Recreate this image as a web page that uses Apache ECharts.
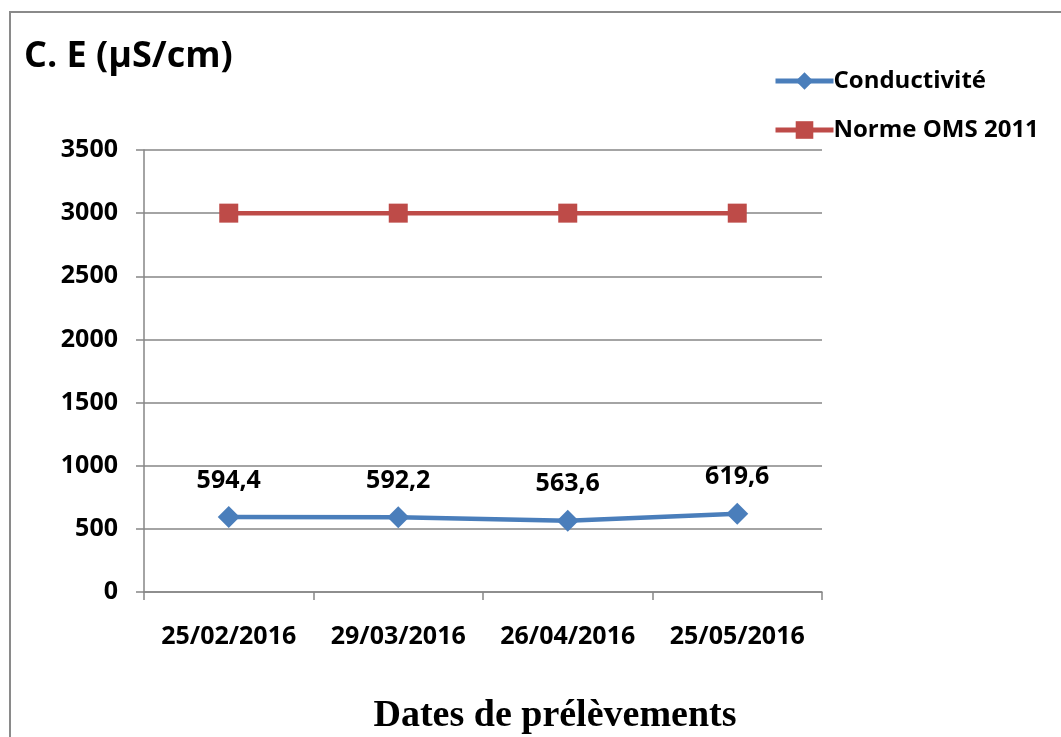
<!DOCTYPE html>
<html>
<head>
<meta charset="utf-8">
<script src="https://cdn.jsdelivr.net/npm/echarts@6/dist/echarts.min.js"></script>
<style>
  html, body { margin: 0; padding: 0; background: #fff; }
  #main { width: 1061px; height: 737px; }
</style>
</head>
<body>
<div id="main"></div>
<script>
var dates = ['25/02/2016', '29/03/2016', '26/04/2016', '25/05/2016'];
var conductivite = [594.4, 592.2, 563.6, 619.6];
var normeOMS = [3000, 3000, 3000, 3000];

var font = '"Open Sans", "Noto Sans", sans-serif';
var grey = '#868686';

var myChart = echarts.init(document.getElementById('main'));
var option = {
	animation: false,
	title: {
		text: 'C. E (µS/cm)',
		left: 19,
		top: 34,
		textStyle: { fontFamily: font, fontSize: 36, fontWeight: 'bold', color: '#000' }
	},
	graphic: [{
		type: 'rect',
		shape: { x: 10, y: 12, width: 1100, height: 800 },
		style: { fill: 'none', stroke: '#8a8a8a', lineWidth: 2 },
		silent: true
	}, {
		// titre de l'axe des abscisses
		type: 'text',
		x: 555,
		y: 716,
		style: {
			text: 'Dates de prélèvements',
			fontFamily: '"Liberation Serif", "DejaVu Serif", serif',
			fontSize: 38,
			fontWeight: 'bold',
			fill: '#000',
			align: 'center',
			verticalAlign: 'middle'
		}
	}],
	legend: {
		orient: 'vertical',
		left: 768,
		top: 64,
		itemWidth: 58,
		itemHeight: 22,
		itemGap: 25,
		lineStyle: { width: 5 },
		textStyle: { fontFamily: font, fontSize: 24, fontWeight: 'bold', color: '#000', padding: [0, 0, 0, -5] },
		data: ['Conductivité', 'Norme OMS 2011']
	},
	grid: { left: 144, right: 239, top: 150, bottom: 145 },
	xAxis: {
		type: 'category',
		data: dates,
		boundaryGap: true,
		axisLine: { lineStyle: { color: grey, width: 1.5 } },
		axisTick: { show: true, interval: 0, length: 8, lineStyle: { color: grey, width: 1.5 } },
		axisLabel: { interval: 0, fontFamily: font, fontSize: 25, fontWeight: 'bold', color: '#000', margin: 32 },
		splitLine: { show: false }
	},
	yAxis: {
		type: 'value',
		min: 0,
		max: 3500,
		interval: 500,
		axisLine: { show: true, lineStyle: { color: grey, width: 1.5 } },
		axisTick: { show: true, length: 8, lineStyle: { color: grey, width: 1.5 } },
		axisLabel: {
			fontFamily: font, fontSize: 25, fontWeight: 'bold', color: '#000', margin: 26,
			formatter: function(v) { return String(v); }
		},
		splitLine: { lineStyle: { color: grey, width: 1.5 } }
	},
	series: [{
		name: 'Conductivité',
		type: 'line',
		data: conductivite,
		symbol: 'diamond',
		symbolSize: 22,
		lineStyle: { color: '#4A7EBB', width: 4.5 },
		itemStyle: { color: '#4A7EBB' },
		label: {
			show: true,
			position: 'top',
			distance: 13,
			fontFamily: font,
			fontSize: 25,
			fontWeight: 'bold',
			color: '#000',
			formatter: function(p) { return String(p.value).replace('.', ','); }
		}
	}, {
		name: 'Norme OMS 2011',
		type: 'line',
		data: normeOMS,
		symbol: 'rect',
		symbolSize: 19,
		lineStyle: { color: '#BE4B48', width: 4.5 },
		itemStyle: { color: '#BE4B48' }
	}]
};
myChart.setOption(option);
window.onresize = function() { myChart.resize(); };
</script>
</body>
</html>
